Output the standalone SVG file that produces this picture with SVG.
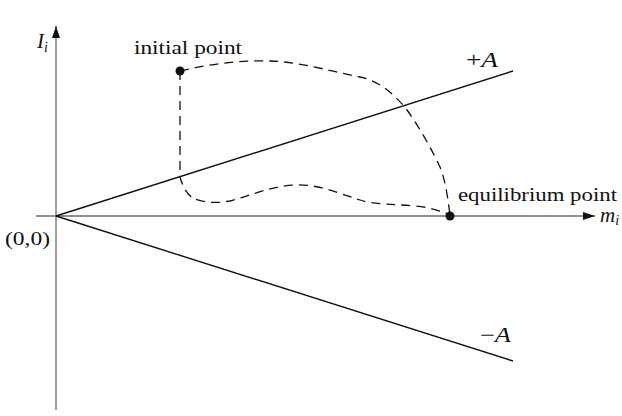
<svg xmlns="http://www.w3.org/2000/svg" width="622" height="416" viewBox="0 0 622 416">
<style>
.axis{stroke:#6a6a6a;stroke-width:1.3;fill:none}
.line{stroke:#111;stroke-width:1.4;fill:none}
.path{stroke:#111;stroke-width:1.3;fill:none;stroke-dasharray:9,6}
.t{font-family:"Liberation Serif","Times New Roman",serif;font-size:19px;fill:#111}
.m{font-family:"Liberation Serif","Times New Roman",serif;font-size:21px;fill:#111}
.it{font-style:italic}
</style>
<defs>
<marker id="arr" viewBox="0 0 12 8" refX="12" refY="4" markerWidth="12" markerHeight="8" markerUnits="userSpaceOnUse" orient="auto">
<path d="M0,0 L12,4 L0,8 Z" fill="#111"/>
</marker>
</defs>
<g id="connectors">
<line class="axis" x1="56" y1="410" x2="56" y2="26" marker-end="url(#arr)"/>
<line class="axis" x1="36" y1="216" x2="595" y2="216" marker-end="url(#arr)"/>
<line class="line" x1="56" y1="216" x2="513" y2="71"/>
<line class="line" x1="56" y1="216" x2="513" y2="361"/>
<path class="path" d="M180,71 C210,64 240,60 270,61 C300,62 330,71 360,77 C380,81 395,95 407,110 C420,128 432,150 440,167 C446,182 448,200 450,215"/>
<path class="path" d="M180,71 L180,177 C182,185 187,195 193,198 C200,202 215,204 230,201 C250,196 270,186 295,185 C320,184 340,194 360,200 C375,205 395,204 415,206 C430,207 440,211 450,215"/>
</g>
<g id="initial-point">
<circle cx="180" cy="71" r="4.5" fill="#111"/>
<text class="t" x="134" y="54" textLength="108" lengthAdjust="spacingAndGlyphs">initial point</text>
</g>
<g id="equilibrium-point">
<circle cx="450" cy="216" r="4.5" fill="#111"/>
<text class="t" x="458" y="201" textLength="159" lengthAdjust="spacingAndGlyphs">equilibrium point</text>
</g>
<g id="labels">
<text class="m it" x="37" y="48">I<tspan font-size="14" dy="4">i</tspan></text>
<text class="m it" x="600" y="222">m<tspan font-size="14" dy="3">i</tspan></text>
<text class="t" x="5" y="245" textLength="45" lengthAdjust="spacingAndGlyphs">(0,0)</text>
<text class="m" x="466" y="67" textLength="32" lengthAdjust="spacingAndGlyphs">+<tspan class="it">A</tspan></text>
<text class="m" x="480" y="342" textLength="31" lengthAdjust="spacingAndGlyphs">−<tspan class="it">A</tspan></text>
</g>
</svg>
